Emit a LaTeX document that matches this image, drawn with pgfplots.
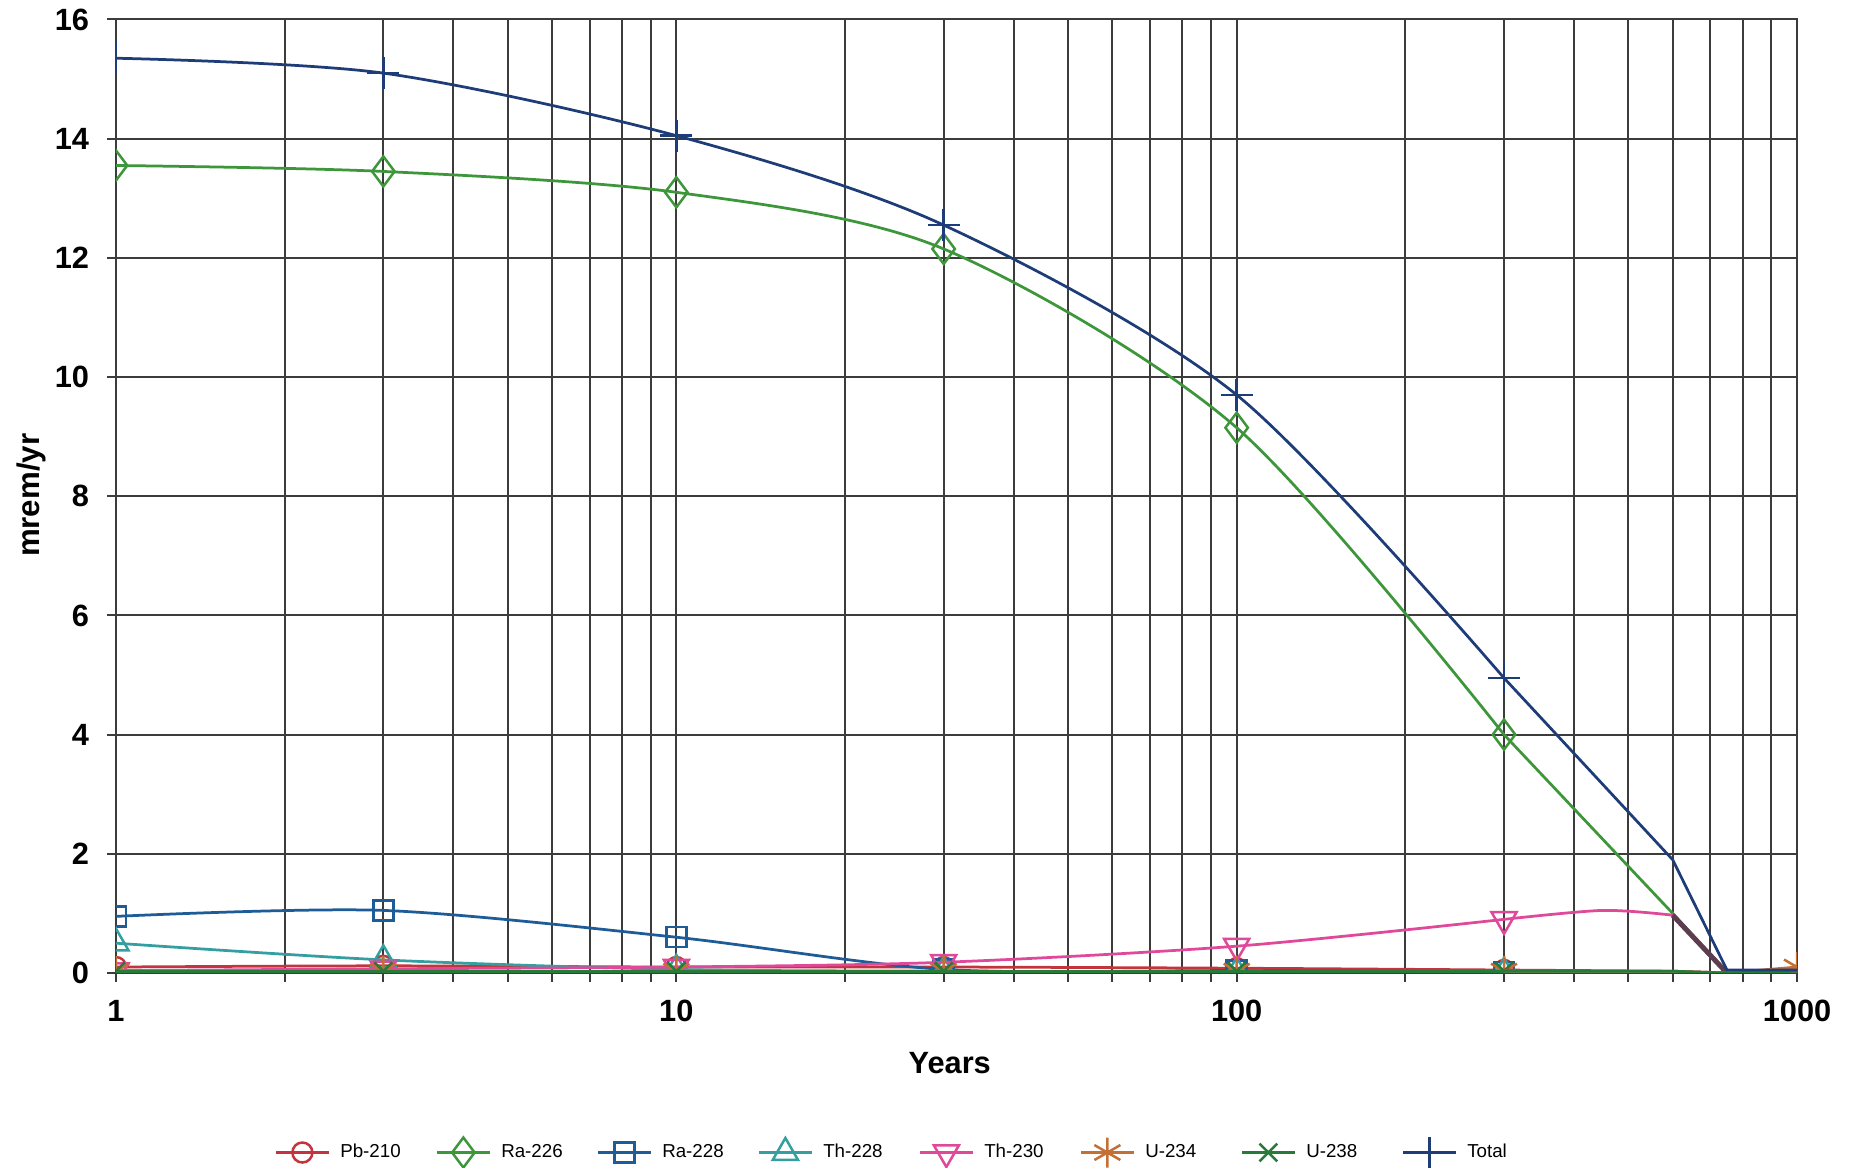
\documentclass[border=0pt]{standalone}
\usepackage{fontspec}
\setmainfont{Liberation Sans}
\usepackage{pgfplots}
\pgfplotsset{compat=1.18}
\definecolor{cPb}{RGB}{196,52,62}
\definecolor{cRaA}{RGB}{62,150,58}
\definecolor{cRaB}{RGB}{30,92,152}
\definecolor{cThA}{RGB}{52,158,160}
\definecolor{cThB}{RGB}{224,72,154}
\definecolor{cUA}{RGB}{196,112,52}
\definecolor{cUB}{RGB}{40,122,56}
\definecolor{cTot}{RGB}{30,60,120}
\definecolor{gridc}{RGB}{60,60,60}
\begin{document}
\begin{tikzpicture}
\useasboundingbox (0,0) rectangle (740.8pt,467.2pt);
\begin{axis}[
  at={(46.4pt,78pt)}, anchor=south west,
  scale only axis, width=672.4pt, height=381.4pt,
  xmode=log, xmin=1, xmax=1000, ymin=0, ymax=16,
  xtick={1,10,100,1000}, xticklabels={1,10,100,1000},
  minor xtick={2,3,4,5,6,7,8,9,20,30,40,50,60,70,80,90,200,300,400,500,600,700,800,900},
  ytick={0,2,4,6,8,10,12,14,16},
  xmajorgrids, xminorgrids, ymajorgrids,
  grid style={draw=gridc, line width=0.8pt},
  major grid style={draw=gridc, line width=0.8pt},
  minor grid style={draw=gridc, line width=0.8pt},
  axis line style={draw=gridc, line width=0.8pt},
  tick style={draw=gridc, line width=0.8pt},
  tick align=outside, major tick length=3.6pt, minor tick length=3.6pt,
  xtick pos=bottom, ytick pos=left,
  clip marker paths=true,
  /pgf/number format/assume math mode=true,
  ticklabel style={font=\bfseries\fontsize{12.3}{14}\selectfont, inner sep=0pt},
  xticklabel style={yshift=-7pt},
  yticklabel style={xshift=-7pt},
  xlabel={Years}, ylabel={mrem/yr},
  every axis x label/.style={at={(axis description cs:0.496,-0.1049)}, anchor=base, font=\bfseries\fontsize{12.3}{14}\selectfont},
  every axis y label/.style={at={(axis description cs:-0.0455,0.501)}, anchor=base, rotate=90, font=\bfseries\fontsize{12.5}{14}\selectfont},
  legend columns=8,
  legend style={draw=none, fill=none, inner sep=0pt, at={(0.094,-0.1883)}, anchor=west,
    font=\fontsize{7.5}{9}\selectfont,
    nodes={inner sep=0pt, text width=36pt, align=left},
    /tikz/every odd column/.append style={column sep=4.0pt},
    /tikz/every even column/.append style={column sep=2.1pt}},
  legend image code/.code={\draw[mark repeat=2,mark phase=2] plot coordinates {(0pt,0pt) (10.6pt,0pt) (21.2pt,0pt)};},
  every axis plot/.append style={line width=1.1pt},
]
% Pb-210
\addplot[cPb, smooth, mark=o, mark size=4pt, mark options={solid, line width=1pt}] coordinates {(1,0.10) (3,0.12) (10,0.10) (30,0.10) (100,0.08) (300,0.05)};
\addlegendentry{Pb-210}
% Ra-226
\addplot[cRaA, smooth, mark=diamond, mark size=6pt, mark options={solid, line width=1pt}] coordinates {(1,13.55) (3,13.45) (10,13.1) (30,12.15) (100,9.15) (300,4.0)};
\addlegendentry{Ra-226}
% Ra-228
\addplot[cRaB, smooth, mark=square, mark size=4pt, mark options={solid, line width=1pt}] coordinates {(1,0.95) (3,1.05) (10,0.60) (30,0.06) (100,0.04) (300,0.02)};
\addlegendentry{Ra-228}
% Th-228
\addplot[cThA, smooth, mark=triangle, mark size=5.8pt, mark options={solid, line width=1pt}] coordinates {(1,0.50) (3,0.22) (10,0.06) (30,0.03) (100,0.02) (300,0.01)};
\addlegendentry{Th-228}
% Th-230
\addplot[cThB, smooth, mark=triangle, mark size=5.8pt, mark options={solid, line width=1pt, rotate=180}] coordinates {(1,0.04) (3,0.07) (10,0.10) (30,0.18) (100,0.45) (300,0.90)};
\addlegendentry{Th-230}
% U-234
\addplot[cUA, smooth, mark=asterisk, mark size=6pt, mark options={solid, line width=1pt}] coordinates {(1,0.03) (3,0.03) (10,0.03) (30,0.03) (100,0.03) (300,0.03)};
\addlegendentry{U-234}
% U-238
\addplot[cUB, smooth, mark=x, mark size=5pt, mark options={solid, line width=1pt}] coordinates {(1,0.03) (3,0.03) (10,0.03) (30,0.03) (100,0.03) (300,0.03)};
\addlegendentry{U-238}
% Total
\addplot[cTot, smooth, mark=+, mark size=6.4pt, mark options={solid, line width=1pt}] coordinates {(1,15.35) (3,15.1) (10,14.05) (30,12.55) (100,9.7) (300,4.95)};
\addlegendentry{Total}
% tails beyond 300 years
\addplot[cPb, forget plot, no markers] coordinates {(300,0.05) (600,0.03) (750,0.0) (1000,0.05)};
\addplot[cRaA, forget plot, no markers] coordinates {(300,4.0) (600,1.0) (750,0.0) (1000,0.05)};
\addplot[cRaB, forget plot, no markers] coordinates {(300,0.02) (600,0.01) (750,0.0) (1000,0.02)};
\addplot[cThA, forget plot, no markers] coordinates {(300,0.01) (600,0.01) (750,0.0) (1000,0.01)};
\addplot[cThB, forget plot, smooth, no markers] coordinates {(300,0.90) (450,1.05) (600,0.97)};
\addplot[gridc!80!cThB, forget plot, no markers, line width=2pt] coordinates {(600,0.97) (750,0.0)};
\addplot[cThB, forget plot, no markers] coordinates {(750,0.0) (1000,0.02)};
\addplot[cUA, forget plot, no markers] coordinates {(300,0.03) (600,0.03) (750,0.0) (1000,0.10)};
\addplot[cUA, forget plot, only marks, mark=asterisk, mark size=6pt, mark options={solid, line width=1pt}] coordinates {(1000,0.10)};
\addplot[cUB, forget plot, no markers] coordinates {(300,0.03) (600,0.03) (750,0.0) (1000,0.03)};
\addplot[cTot, forget plot, no markers] coordinates {(300,4.95) (600,1.9) (750,0.05) (1000,0.05)};
\end{axis}
\end{tikzpicture}
\end{document}
